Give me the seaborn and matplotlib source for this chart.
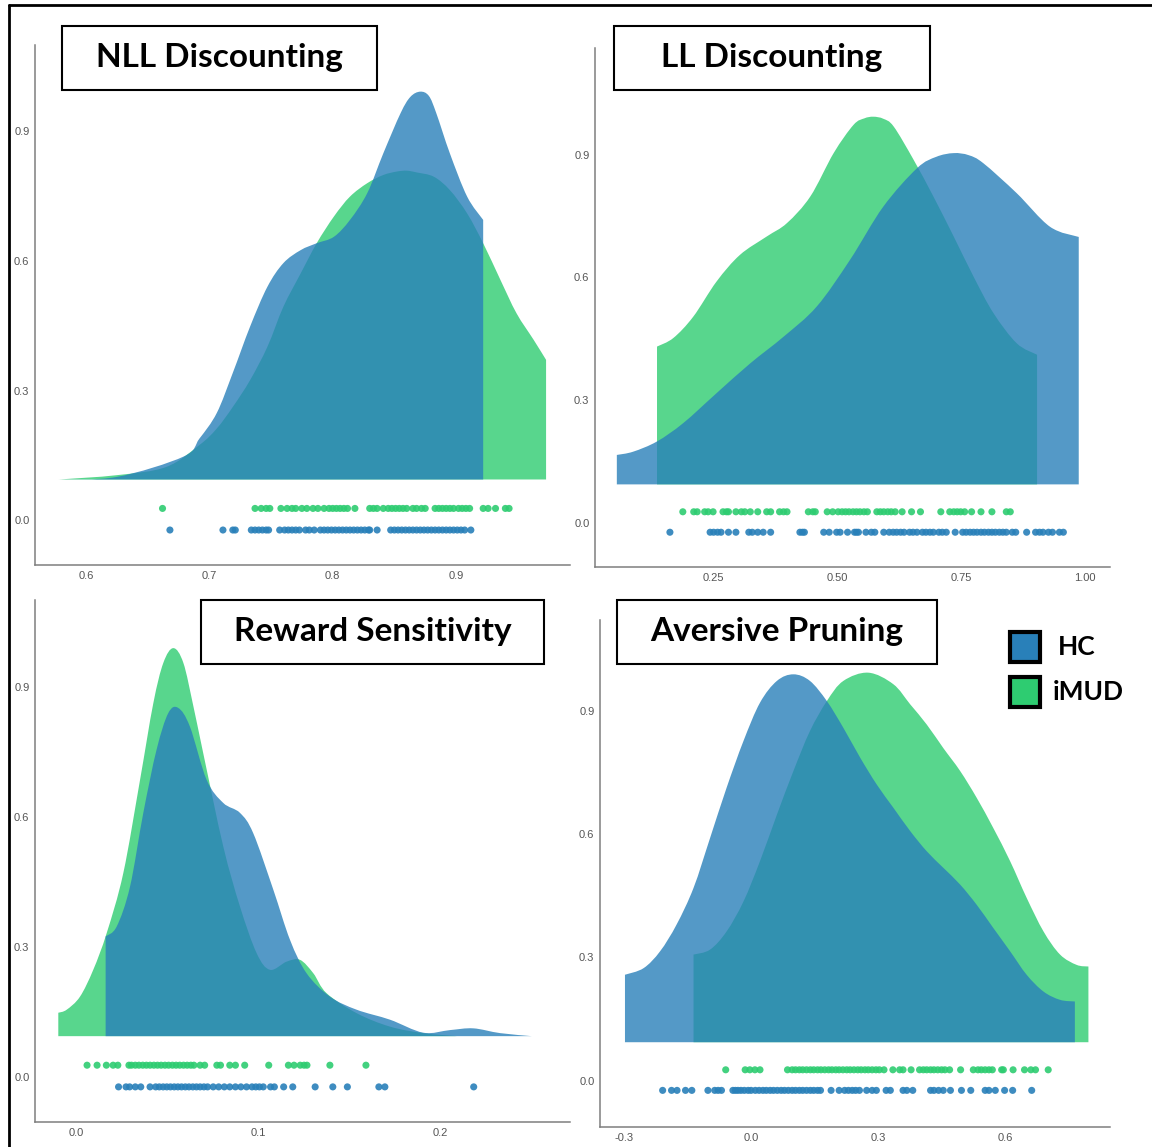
import matplotlib.pyplot as plt
import matplotlib.patches as mpatches
import matplotlib.lines as mlines
from matplotlib.path import Path
import numpy as np
import pandas as pd
import seaborn as sns

# ---- data ----
GROUPS = ["HC", "iMUD"]
COLORS = {"HC": "#2980B9", "iMUD": "#2ECC71"}
RIDGE_BASE = 0.094
POINT_Y = {"iMUD": 0.027, "HC": -0.023}

# NLL Discounting
nll_hc_x = [0.578, 0.625, 0.679, 0.692, 0.706, 0.719, 0.733, 0.747, 0.760, 0.774, 0.787,
            0.801, 0.814, 0.828, 0.841, 0.855, 0.863, 0.871, 0.878, 0.884, 0.895, 0.909, 0.922]
nll_hc_y = [0.094, 0.100, 0.147, 0.189, 0.248, 0.341, 0.448, 0.540, 0.595, 0.625, 0.641,
            0.656, 0.695, 0.757, 0.849, 0.942, 0.980, 0.992, 0.982, 0.942, 0.849, 0.749, 0.695]
nll_imud_x = [0.578, 0.625, 0.665, 0.692, 0.706, 0.719, 0.733, 0.747, 0.760, 0.774, 0.787,
              0.801, 0.814, 0.828, 0.841, 0.852, 0.860, 0.868, 0.882, 0.895, 0.909, 0.922,
              0.936, 0.949, 0.963, 0.973]
nll_imud_y = [0.094, 0.104, 0.123, 0.174, 0.212, 0.262, 0.324, 0.401, 0.494, 0.571, 0.641,
              0.703, 0.749, 0.780, 0.799, 0.807, 0.809, 0.805, 0.795, 0.764, 0.710, 0.641,
              0.556, 0.479, 0.417, 0.371]
nll_hc_pts = [0.668, 0.711, 0.719, 0.721, 0.734, 0.737, 0.740, 0.743, 0.746, 0.748, 0.757,
              0.761, 0.764, 0.767, 0.770, 0.773, 0.778, 0.781, 0.785, 0.790, 0.793, 0.796,
              0.799, 0.802, 0.805, 0.808, 0.811, 0.814, 0.817, 0.820, 0.823, 0.826, 0.829,
              0.830, 0.836, 0.847, 0.850, 0.853, 0.856, 0.859, 0.862, 0.865, 0.868, 0.871,
              0.874, 0.877, 0.880, 0.883, 0.886, 0.889, 0.892, 0.895, 0.898, 0.901, 0.904,
              0.907, 0.912]
nll_imud_pts = [0.662, 0.737, 0.742, 0.746, 0.749, 0.758, 0.763, 0.767, 0.770, 0.775, 0.779,
                0.784, 0.788, 0.793, 0.797, 0.800, 0.803, 0.806, 0.809, 0.812, 0.818, 0.830,
                0.833, 0.836, 0.841, 0.845, 0.848, 0.851, 0.854, 0.857, 0.860, 0.865, 0.868,
                0.872, 0.875, 0.883, 0.886, 0.889, 0.892, 0.895, 0.898, 0.902, 0.905, 0.908,
                0.911, 0.922, 0.926, 0.932, 0.940, 0.943]

# LL Discounting
ll_hc_x = [0.056, 0.089, 0.137, 0.190, 0.257, 0.325, 0.392, 0.459, 0.526, 0.593, 0.661,
           0.700, 0.735, 0.765, 0.795, 0.862, 0.929, 0.987]
ll_hc_y = [0.166, 0.174, 0.199, 0.244, 0.317, 0.390, 0.455, 0.529, 0.643, 0.773, 0.867,
           0.895, 0.904, 0.899, 0.879, 0.806, 0.724, 0.699]
ll_imud_x = [0.137, 0.170, 0.210, 0.257, 0.304, 0.358, 0.399, 0.446, 0.493, 0.533, 0.555,
             0.573, 0.593, 0.614, 0.654, 0.694, 0.735, 0.775, 0.815, 0.862, 0.903]
ll_imud_y = [0.431, 0.452, 0.504, 0.590, 0.655, 0.700, 0.733, 0.798, 0.904, 0.973, 0.989,
             0.993, 0.988, 0.969, 0.888, 0.798, 0.700, 0.602, 0.513, 0.439, 0.411]
ll_hc_pts = [0.163, 0.244, 0.251, 0.259, 0.266, 0.281, 0.296, 0.322, 0.329, 0.340, 0.351,
             0.366, 0.425, 0.430, 0.434, 0.473, 0.484, 0.499, 0.506, 0.521, 0.535, 0.539,
             0.543, 0.558, 0.569, 0.576, 0.594, 0.605, 0.613, 0.620, 0.628, 0.635, 0.646,
             0.653, 0.661, 0.672, 0.679, 0.687, 0.694, 0.705, 0.712, 0.720, 0.738, 0.753,
             0.760, 0.768, 0.775, 0.782, 0.790, 0.797, 0.805, 0.812, 0.819, 0.827, 0.834,
             0.841, 0.853, 0.860, 0.882, 0.900, 0.908, 0.915, 0.926, 0.934, 0.948, 0.956]
ll_imud_pts = [0.189, 0.211, 0.218, 0.233, 0.240, 0.250, 0.270, 0.277, 0.281, 0.296, 0.307,
               0.314, 0.325, 0.340, 0.358, 0.366, 0.384, 0.392, 0.399, 0.442, 0.451, 0.456,
               0.480, 0.491, 0.502, 0.510, 0.517, 0.524, 0.532, 0.539, 0.546, 0.554, 0.561,
               0.580, 0.587, 0.594, 0.602, 0.609, 0.617, 0.631, 0.650, 0.668, 0.709, 0.727,
               0.735, 0.742, 0.749, 0.757, 0.771, 0.790, 0.812, 0.841, 0.849]

# Reward Sensitivity
rs_hc_x = [0.0163, 0.0224, 0.0297, 0.0370, 0.0443, 0.0507, 0.0562, 0.0626, 0.0718, 0.0809,
           0.0901, 0.0974, 0.1084, 0.1176, 0.1267, 0.1396, 0.1542, 0.1725, 0.1908, 0.2055,
           0.2183, 0.2330, 0.2504]
rs_hc_y = [0.324, 0.347, 0.439, 0.609, 0.755, 0.839, 0.851, 0.808, 0.685, 0.632, 0.609,
           0.562, 0.432, 0.316, 0.239, 0.185, 0.155, 0.132, 0.102, 0.108, 0.112, 0.101, 0.094]
rs_imud_x = [-0.0097, -0.0051, 0.0022, 0.0095, 0.0169, 0.0260, 0.0352, 0.0425, 0.0480,
             0.0535, 0.0590, 0.0645, 0.0699, 0.0809, 0.0901, 0.0993, 0.1066, 0.1158, 0.1231,
             0.1304, 0.1377, 0.1542, 0.1725, 0.1908, 0.2092]
rs_imud_y = [0.148, 0.155, 0.185, 0.247, 0.332, 0.470, 0.685, 0.862, 0.955, 0.989, 0.955,
             0.855, 0.747, 0.532, 0.393, 0.285, 0.247, 0.266, 0.270, 0.239, 0.193, 0.147,
             0.116, 0.101, 0.094]
rs_hc_pts = [0.0234, 0.0275, 0.0295, 0.0326, 0.0356, 0.0407, 0.0438, 0.0458, 0.0479, 0.0499,
             0.0519, 0.0540, 0.0560, 0.0580, 0.0601, 0.0621, 0.0642, 0.0662, 0.0682, 0.0703,
             0.0723, 0.0754, 0.0784, 0.0815, 0.0845, 0.0876, 0.0906, 0.0937, 0.0967, 0.0988,
             0.1008, 0.1029, 0.1069, 0.1090, 0.1141, 0.1191, 0.1314, 0.1411, 0.1491, 0.1664,
             0.1697, 0.2185]
rs_imud_pts = [0.0061, 0.0116, 0.0167, 0.0204, 0.0230, 0.0291, 0.0305, 0.0326, 0.0346,
               0.0367, 0.0387, 0.0407, 0.0428, 0.0448, 0.0468, 0.0489, 0.0509, 0.0530,
               0.0550, 0.0570, 0.0591, 0.0611, 0.0631, 0.0648, 0.0682, 0.0707, 0.0774,
               0.0794, 0.0845, 0.0876, 0.0927, 0.1059, 0.1167, 0.1198, 0.1232, 0.1253,
               0.1269, 0.1395, 0.1593]

# Aversive Pruning
ap_hc_x = [-0.298, -0.254, -0.215, -0.176, -0.136, -0.097, -0.058, -0.018, 0.021, 0.061,
           0.100, 0.139, 0.179, 0.218, 0.258, 0.297, 0.336, 0.376, 0.415, 0.454, 0.494,
           0.533, 0.572, 0.612, 0.651, 0.691, 0.730, 0.765]
ap_hc_y = [0.258, 0.274, 0.315, 0.380, 0.469, 0.590, 0.712, 0.826, 0.919, 0.972, 0.988,
           0.972, 0.923, 0.858, 0.785, 0.720, 0.664, 0.607, 0.558, 0.518, 0.477, 0.428,
           0.372, 0.315, 0.258, 0.217, 0.197, 0.193]
ap_imud_x = [-0.136, -0.097, -0.058, -0.018, 0.021, 0.061, 0.100, 0.139, 0.179, 0.218,
             0.277, 0.336, 0.376, 0.415, 0.454, 0.494, 0.533, 0.572, 0.612, 0.651, 0.691,
             0.730, 0.769, 0.797]
ap_imud_y = [0.307, 0.319, 0.363, 0.436, 0.534, 0.647, 0.753, 0.850, 0.923, 0.972, 0.992,
             0.964, 0.915, 0.866, 0.809, 0.753, 0.688, 0.615, 0.534, 0.445, 0.363, 0.307,
             0.282, 0.278]
ap_hc_pts = [-0.209, -0.188, -0.175, -0.155, -0.140, -0.102, -0.086, -0.078, -0.070, -0.043,
             -0.037, -0.031, -0.024, -0.016, -0.007, 0.000, 0.010, 0.019, 0.028, 0.036,
             0.045, 0.053, 0.062, 0.071, 0.079, 0.088, 0.097, 0.105, 0.114, 0.122, 0.131,
             0.140, 0.148, 0.157, 0.164, 0.189, 0.208, 0.221, 0.230, 0.239, 0.247, 0.256,
             0.273, 0.286, 0.296, 0.319, 0.329, 0.359, 0.368, 0.382, 0.424, 0.432, 0.443,
             0.454, 0.471, 0.497, 0.519, 0.553, 0.562, 0.577, 0.599, 0.618, 0.663]
ap_imud_pts = [-0.060, -0.014, -0.003, 0.009, 0.021, 0.086, 0.097, 0.105, 0.114, 0.122,
               0.131, 0.140, 0.148, 0.157, 0.165, 0.174, 0.183, 0.191, 0.200, 0.208, 0.217,
               0.226, 0.234, 0.243, 0.252, 0.260, 0.269, 0.277, 0.286, 0.295, 0.303, 0.314,
               0.335, 0.351, 0.359, 0.378, 0.398, 0.407, 0.415, 0.424, 0.432, 0.441, 0.450,
               0.458, 0.469, 0.495, 0.525, 0.536, 0.544, 0.553, 0.562, 0.570, 0.592, 0.596,
               0.619, 0.646, 0.661, 0.672, 0.702]

TITLES = ["NLL Discounting", "LL Discounting", "Reward Sensitivity", "Aversive Pruning"]
YTICKS = [0.0, 0.3, 0.6, 0.9]

panels = [
    dict(title=TITLES[0], curves={"HC": (nll_hc_x, nll_hc_y), "iMUD": (nll_imud_x, nll_imud_y)},
         pts={"HC": nll_hc_pts, "iMUD": nll_imud_pts},
         xticks=[0.6, 0.7, 0.8, 0.9], xfmt="{:.1f}", xlim=(0.5586, 0.9924), ylim=(-0.104, 1.10),
         rect=(35, 45, 570, 565), box=(62, 26, 377, 90)),
    dict(title=TITLES[1], curves={"HC": (ll_hc_x, ll_hc_y), "iMUD": (ll_imud_x, ll_imud_y)},
         pts={"HC": ll_hc_pts, "iMUD": ll_imud_pts},
         xticks=[0.25, 0.50, 0.75, 1.00], xfmt="{:.2f}", xlim=(0.012, 1.050), ylim=(-0.108, 1.161),
         rect=(595, 48, 1110, 567), box=(614, 26, 930, 90)),
    dict(title=TITLES[2], curves={"HC": (rs_hc_x, rs_hc_y), "iMUD": (rs_imud_x, rs_imud_y)},
         pts={"HC": rs_hc_pts, "iMUD": rs_imud_pts},
         xticks=[0.0, 0.1, 0.2], xfmt="{:.1f}", xlim=(-0.0225, 0.2714), ylim=(-0.104, 1.10),
         rect=(35, 600, 570, 1122), box=(201, 600, 544, 664)),
    dict(title=TITLES[3], curves={"HC": (ap_hc_x, ap_hc_y), "iMUD": (ap_imud_x, ap_imud_y)},
         pts={"HC": ap_hc_pts, "iMUD": ap_imud_pts},
         xticks=[-0.3, 0.0, 0.3, 0.6], xfmt="{:.1f}", xlim=(-0.357, 0.848), ylim=(-0.112, 1.12),
         rect=(600, 620, 1110, 1127), box=(617, 600, 937, 664)),
]


def ridge_path(xs, ys, base):
    """Closed ridge outline; the top edge runs through the read points as a smooth Bezier."""
    pts = np.column_stack([xs, ys])
    verts = [(xs[0], base), tuple(pts[0])]
    codes = [Path.MOVETO, Path.LINETO]
    n = len(pts)
    for i in range(n - 1):
        p_prev = pts[max(i - 1, 0)]
        p0, p1 = pts[i], pts[i + 1]
        p_next = pts[min(i + 2, n - 1)]
        c1 = p0 + (p1 - p_prev) / 6.0
        c2 = p1 - (p_next - p0) / 6.0
        verts += [tuple(c1), tuple(c2), tuple(p1)]
        codes += [Path.CURVE4] * 3
    verts += [(xs[-1], base), (xs[0], base)]
    codes += [Path.LINETO, Path.CLOSEPOLY]
    return Path(verts, codes)


W, H = 1152, 1147
sns.set_theme(style="white")
plt.rcParams["font.family"] = ["Liberation Sans", "DejaVu Sans"]
fig = plt.figure(figsize=(W / 100, H / 100), dpi=100)


def fx(px):
    return px / W


def fy(py):
    return 1 - py / H


for p in panels:
    x0, y0, x1, y1 = p["rect"]
    ax = fig.add_axes([fx(x0), fy(y1), fx(x1) - fx(x0), fy(y0) - fy(y1)])
    # ridges: iMUD underneath, HC on top
    for g in ["iMUD", "HC"]:
        cx, cy = p["curves"][g]
        ax.add_patch(mpatches.PathPatch(ridge_path(cx, cy, RIDGE_BASE), facecolor=COLORS[g],
                                        alpha=0.8, linewidth=0))
    # raw points under the ridges
    rows = []
    for g in GROUPS:
        for v in p["pts"][g]:
            rows.append({"value": v, "pos": POINT_Y[g], "group": g})
    df = pd.DataFrame(rows)
    sns.scatterplot(data=df, x="value", y="pos", hue="group", palette=COLORS, s=26,
                    alpha=0.9, linewidth=0, legend=False, ax=ax)
    ax.set_xlim(*p["xlim"])
    ax.set_ylim(*p["ylim"])
    ax.set_xticks(p["xticks"])
    ax.set_xticklabels([p["xfmt"].format(t) for t in p["xticks"]])
    ax.set_yticks(YTICKS)
    ax.set_yticklabels(["{:.1f}".format(t) for t in YTICKS])
    ax.set_xlabel("")
    ax.set_ylabel("")
    ax.tick_params(axis="both", labelsize=8, colors="#555555", length=2, width=0.6, pad=2)
    for s in ["top", "right"]:
        ax.spines[s].set_visible(False)
    for s in ["left", "bottom"]:
        ax.spines[s].set_color("#7f7f7f")
        ax.spines[s].set_linewidth(1.1)
    ax.set_facecolor("none")

    # boxed title
    bx0, by0, bx1, by1 = p["box"]
    fig.patches.append(mpatches.Rectangle((fx(bx0), fy(by1)), fx(bx1) - fx(bx0), fy(by0) - fy(by1),
                                          transform=fig.transFigure, facecolor="white",
                                          edgecolor="black", linewidth=1.5, zorder=5))
    fig.text(fx((bx0 + bx1) / 2), fy((by0 + by1) / 2), p["title"], ha="center", va="center",
             fontsize=24, fontweight="bold", family=["Lato", "DejaVu Sans"], color="black",
             zorder=6)

# legend
for i, g in enumerate(GROUPS):
    top = 632 + i * 45
    fig.patches.append(mpatches.Rectangle((fx(1010), fy(top + 30)), fx(30), 30 / H,
                                          transform=fig.transFigure, facecolor=COLORS[g],
                                          edgecolor="black", linewidth=3.0, zorder=5))
    fig.text(fx(1053 if g == "iMUD" else 1058), fy(top + 15), g, ha="left", va="center",
             fontsize=19, fontweight="bold", family=["Lato", "DejaVu Sans"], color="black")

# outer frame (left and top edges)
fig.add_artist(mlines.Line2D([fx(9), fx(9)], [fy(5), 0], transform=fig.transFigure,
                             color="black", linewidth=2))
fig.add_artist(mlines.Line2D([fx(9), 1], [fy(5), fy(5)], transform=fig.transFigure,
                             color="black", linewidth=2))

fig.savefig("out.png", dpi=100)
